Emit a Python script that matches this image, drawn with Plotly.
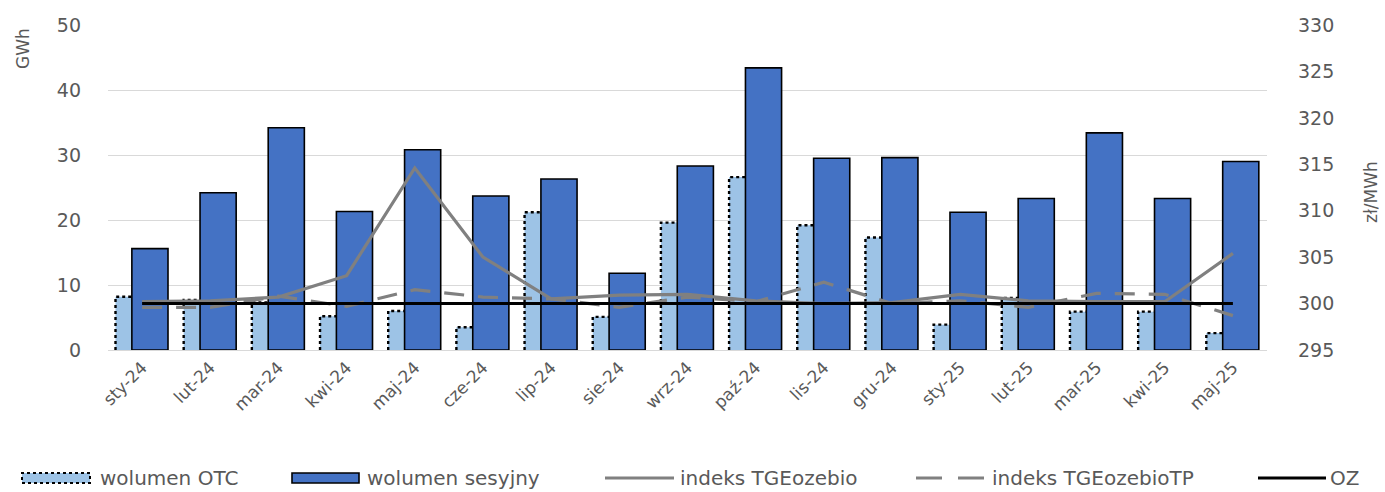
import plotly.graph_objects as go

# Monthly categories
months = ["sty-24", "lut-24", "mar-24", "kwi-24", "maj-24", "cze-24", "lip-24",
          "sie-24", "wrz-24", "paź-24", "lis-24", "gru-24", "sty-25", "lut-25",
          "mar-25", "kwi-25", "maj-25"]

# Volumes, GWh
wolumen_otc = [8.2, 7.7, 7.3, 5.2, 6.0, 3.5, 21.2, 5.1, 19.6, 26.6, 19.2, 17.3,
               3.9, 8.0, 5.9, 5.9, 2.6]
wolumen_sesyjny = [15.6, 24.2, 34.2, 21.3, 30.8, 23.7, 26.3, 11.8, 28.3, 43.4, 29.5,
                   29.6, 21.2, 23.3, 33.4, 23.3, 29.0]

# Price indices, zł/MWh
indeks_tgeozebio = [300.2, 300.3, 300.7, 303.0, 314.6, 305.0, 300.5, 300.9, 301.0,
                    300.3, 300.0, 300.1, 301.0, 300.3, 300.2, 300.2, 305.4]
indeks_tgeozebio_tp = [299.6, 299.6, 300.8, 299.7, 301.5, 300.7, 300.5, 299.6, 300.7,
                       300.2, 302.3, 300.0, 300.3, 299.6, 301.1, 301.0, 298.7]
oz = [300.0, 300.0, 300.0, 300.0, 300.0, 300.0, 300.0, 300.0, 300.0, 300.0, 300.0,
      300.0, 300.0, 300.0, 300.0, 300.0, 300.0]

left_ticks = [0, 10, 20, 30, 40, 50]
right_ticks = [295, 300, 305, 310, 315, 320, 325, 330]

C_OTC = "#9DC3E6"
C_SES = "#4472C4"
C_GREY = "#808080"
C_TEXT = "#595959"
FONT = "DejaVu Sans"

x_idx = list(range(len(months)))
OTC_OFF, SES_OFF, BAR_W = -0.39, -0.15, 0.53

fig = go.Figure()

fig.add_trace(go.Bar(
    x=x_idx, y=wolumen_otc, offset=OTC_OFF, width=BAR_W,
    marker=dict(color=C_OTC, line=dict(width=0)), name="wolumen OTC",
    showlegend=False))
fig.add_trace(go.Bar(
    x=x_idx, y=wolumen_sesyjny, offset=SES_OFF, width=BAR_W,
    marker=dict(color=C_SES, line=dict(color="black", width=1.6)),
    name="wolumen sesyjny", showlegend=False))

# dotted outline on the visible part of each OTC bar
ox, oy = [], []
for i, v in zip(x_idx, wolumen_otc):
    ox += [i + OTC_OFF, i + OTC_OFF, i + SES_OFF, None]
    oy += [0, v, v, None]
fig.add_trace(go.Scatter(
    x=ox, y=oy, mode="lines", line=dict(color="black", width=2.4, dash="dot"),
    hoverinfo="skip", showlegend=False))

fig.add_trace(go.Scatter(
    x=x_idx, y=indeks_tgeozebio, yaxis="y2", mode="lines",
    line=dict(color=C_GREY, width=3.2), name="indeks TGEozebio", showlegend=False))
fig.add_trace(go.Scatter(
    x=x_idx, y=indeks_tgeozebio_tp, yaxis="y2", mode="lines",
    line=dict(color=C_GREY, width=3.2, dash="20px,14px"), name="indeks TGEozebioTP",
    showlegend=False))
fig.add_trace(go.Scatter(
    x=x_idx, y=oz, yaxis="y2", mode="lines",
    line=dict(color="black", width=3), name="OZ", showlegend=False))

# plot area in pixels
W, H = 1385, 492
L, R, T, B = 108, 1267, 25, 350


def px(xp):
    return (xp - L) / (R - L)


def py(yp):
    return (B - yp) / (B - T)


shapes = []
annotations = []
ly = 478
items = [
    ("rect_dot", 22, 90, "wolumen OTC", 98),
    ("rect", 292, 359, "wolumen sesyjny", 365),
    ("line", 605, 674, "indeks TGEozebio", 678),
    ("dash", 916, 985, "indeks TGEozebioTP", 990),
    ("oz", 1258, 1326, "OZ", 1328),
]
for kind, x0, x1, label, tx in items:
    if kind == "rect_dot":
        shapes.append(dict(type="rect", xref="paper", yref="paper",
                           x0=px(x0), x1=px(x1), y0=py(ly + 5), y1=py(ly - 5),
                           fillcolor=C_OTC, line=dict(color="black", width=2, dash="dot")))
    elif kind == "rect":
        shapes.append(dict(type="rect", xref="paper", yref="paper",
                           x0=px(x0), x1=px(x1), y0=py(ly + 5), y1=py(ly - 5),
                           fillcolor=C_SES, line=dict(color="black", width=1.6)))
    elif kind == "line":
        shapes.append(dict(type="line", xref="paper", yref="paper",
                           x0=px(x0), x1=px(x1), y0=py(ly), y1=py(ly),
                           line=dict(color=C_GREY, width=3)))
    elif kind == "dash":
        shapes.append(dict(type="line", xref="paper", yref="paper",
                           x0=px(x0), x1=px(x1), y0=py(ly), y1=py(ly),
                           line=dict(color=C_GREY, width=3, dash="26px,16px")))
    else:
        shapes.append(dict(type="line", xref="paper", yref="paper",
                           x0=px(x0), x1=px(x1), y0=py(ly), y1=py(ly),
                           line=dict(color="black", width=3)))
    annotations.append(dict(text=label, xref="paper", yref="paper", x=px(tx), y=py(ly),
                            xanchor="left", yanchor="middle", showarrow=False,
                            font=dict(family=FONT, size=20, color=C_TEXT)))

annotations.append(dict(text="GWh", xref="paper", yref="paper", x=px(23), y=py(49),
                        xanchor="center", yanchor="middle", textangle=-90,
                        showarrow=False, font=dict(family=FONT, size=17, color=C_TEXT)))
annotations.append(dict(text="zł/MWh", xref="paper", yref="paper", x=px(1371), y=py(192),
                        xanchor="center", yanchor="middle", textangle=-90,
                        showarrow=False, font=dict(family=FONT, size=17, color=C_TEXT)))

fig.update_layout(
    width=W, height=H,
    margin=dict(l=L, r=W - R, t=T, b=H - B),
    paper_bgcolor="white", plot_bgcolor="white",
    barmode="overlay",
    showlegend=False,
    font=dict(family=FONT, color=C_TEXT),
    xaxis=dict(
        range=[-0.5, len(months) - 0.5],
        tickmode="array", tickvals=x_idx, ticktext=months, tickangle=-45,
        tickfont=dict(family=FONT, size=17, color=C_TEXT),
        showgrid=False, zeroline=False, showline=True, linecolor="#D9D9D9",
        linewidth=1, ticks=""),
    yaxis=dict(
        range=[0, 50], tickmode="array", tickvals=left_ticks,
        tickfont=dict(family=FONT, size=19, color=C_TEXT),
        showgrid=True, gridcolor="#D9D9D9", gridwidth=1, zeroline=False,
        showline=False, ticks="", ticklabelstandoff=26),
    yaxis2=dict(
        range=[295, 330], tickmode="array", tickvals=right_ticks,
        overlaying="y", side="right",
        tickfont=dict(family=FONT, size=19, color=C_TEXT),
        showgrid=False, zeroline=False, showline=False, ticks="",
        ticklabelstandoff=30),
    shapes=shapes,
    annotations=annotations,
)

fig.write_html("out.html")
